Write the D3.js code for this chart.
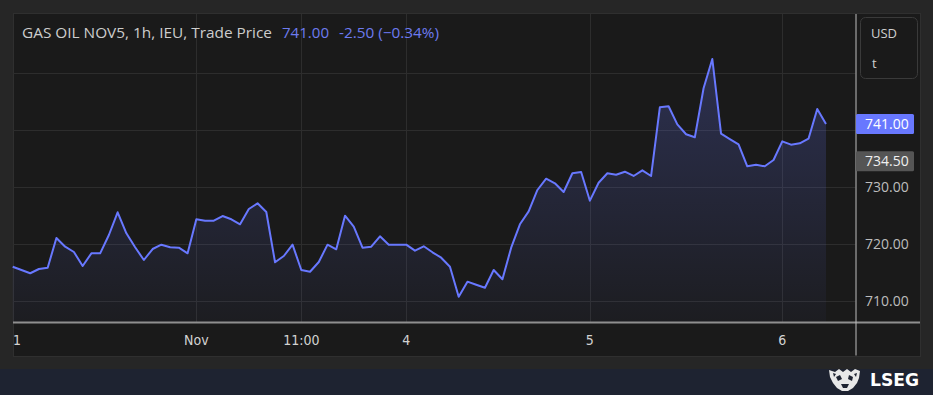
<!DOCTYPE html>
<html>
<head>
<meta charset="utf-8">
<script src="https://cdn.jsdelivr.net/npm/d3@7/dist/d3.min.js"></script>
<style>
  html, body { margin: 0; padding: 0; background: #262626; }
  svg { display: block; }
</style>
</head>
<body>
<svg id="chart" width="933" height="395"></svg>
<script>
// ---- data ----
const prices = [
  716.05, 715.47, 714.90, 715.65, 715.87, 721.07, 719.55, 718.62, 716.17, 718.39,
  718.39, 721.59, 725.56, 721.89, 719.44, 717.22, 719.14, 719.90, 719.44, 719.37,
  718.39, 724.34, 724.09, 724.09, 724.91, 724.34, 723.46, 726.14, 727.13, 725.61,
  716.82, 717.92, 719.90, 715.47, 715.17, 716.87, 719.90, 719.09, 724.97, 723.04,
  719.37, 719.55, 721.36, 719.90, 719.90, 719.90, 718.85, 719.62, 718.57, 717.62,
  716.05, 710.80, 713.43, 712.90, 712.38, 715.47, 713.85, 719.37, 723.46, 725.73,
  729.46, 731.43, 730.63, 729.11, 732.38, 732.60, 727.59, 730.73, 732.38, 732.13,
  732.66, 731.91, 732.90, 731.91, 743.92, 744.09, 740.94, 739.20, 738.67, 747.24,
  752.36, 739.30, 738.37, 737.45, 733.60, 733.88, 733.60, 734.70, 737.97, 737.38,
  737.62, 738.43, 743.62, 741.00
];
const xTickIndex = [0, 21, 33, 45, 66, 88];
const xTickLabels = ["1", "Nov", "11:00", "4", "5", "6"];
const yGridValues = [710, 720, 730, 740, 750];
const yTickValues = [710, 720, 730];
const lastPrice = 741.00;
const refPrice = 734.50;
const titleText = "GAS OIL NOV5, 1h, IEU, Trade Price";
const valueText = "741.00";
const changeText = "-2.50 (\u22120.34%)";

// ---- layout ----
const svg = d3.select("#chart");
const W = 933, H = 395;
const panel = { x: 13, y: 13, w: 907, h: 343 };
const plotL = 13, plotR = 855.5, plotB = 322.5;

const x = d3.scaleLinear().domain([0, prices.length - 1]).range([12.7, 826]);
const y = d3.scaleLinear().domain([710, 750]).range([301.3, 72.5]);

const blue = "#6878ff";
const uiFont = "'Open Sans',sans-serif";

// background
svg.append("rect").attr("width", W).attr("height", H).attr("fill", "#262626");
svg.append("rect").attr("x", panel.x + 0.5).attr("y", panel.y + 0.5)
  .attr("width", panel.w).attr("height", panel.h)
  .attr("fill", "#1a1a1a").attr("stroke", "#2f2f2f");
svg.append("rect").attr("x", 0).attr("y", 369).attr("width", W).attr("height", H - 369)
  .attr("fill", "#1e2331");

// gridlines
svg.append("g").selectAll("line").data(yGridValues).join("line")
  .attr("x1", plotL).attr("x2", plotR)
  .attr("y1", d => Math.round(y(d)) + 0.5).attr("y2", d => Math.round(y(d)) + 0.5)
  .attr("stroke", "#2d2d2d").attr("stroke-width", 1);
svg.append("g").selectAll("line").data(xTickIndex.slice(1)).join("line")
  .attr("x1", d => Math.round(x(d)) + 0.5).attr("x2", d => Math.round(x(d)) + 0.5)
  .attr("y1", panel.y + 1).attr("y2", plotB)
  .attr("stroke", "#2d2d2d").attr("stroke-width", 1);

// area gradient
const defs = svg.append("defs");
const grad = defs.append("linearGradient").attr("id", "areaGrad")
  .attr("gradientUnits", "userSpaceOnUse")
  .attr("x1", 0).attr("x2", 0).attr("y1", 60).attr("y2", plotB);
grad.append("stop").attr("offset", "0%").attr("stop-color", blue).attr("stop-opacity", 0.24);
grad.append("stop").attr("offset", "100%").attr("stop-color", blue).attr("stop-opacity", 0.03);

const area = d3.area().x((d, i) => x(i)).y0(plotB).y1(d => y(d));
svg.append("path").datum(prices).attr("d", area).attr("fill", "url(#areaGrad)");

const line = d3.line().x((d, i) => x(i)).y(d => y(d));
svg.append("path").datum(prices).attr("d", line)
  .attr("fill", "none").attr("stroke", blue).attr("stroke-width", 2)
  .attr("stroke-linejoin", "round");

// axis lines
svg.append("line").attr("x1", plotL).attr("x2", 920).attr("y1", plotB).attr("y2", plotB)
  .attr("stroke", "#8f8f8f").attr("stroke-width", 2);
svg.append("line").attr("x1", plotR + 0.5).attr("x2", plotR + 0.5).attr("y1", panel.y + 1).attr("y2", 355.5)
  .attr("stroke", "#bdbdbd").attr("stroke-width", 1);

// x labels
svg.append("g").selectAll("text").data(xTickIndex).join("text")
  .attr("x", (d, i) => i === 0 ? plotL : x(d))
  .attr("y", 345)
  .attr("text-anchor", (d, i) => i === 0 ? "start" : "middle")
  .attr("fill", "#d2d2d2")
  .style("font-family", "'Liberation Sans Narrow','DejaVu Sans Condensed',sans-serif")
  .style("font-size", "14px")
  .text((d, i) => xTickLabels[i]);

// y labels
svg.append("g").selectAll("text").data(yTickValues).join("text")
  .attr("x", 865).attr("y", d => y(d) + 5)
  .attr("fill", "#bdbdbd")
  .style("font-family", uiFont).style("font-size", "14px")
  .text(d => d3.format(".2f")(d));

// price labels
function priceTag(v, fill, textFill) {
  const cy = y(v);
  svg.append("rect").attr("x", 856).attr("y", cy - 10).attr("width", 58).attr("height", 20)
    .attr("rx", 1.5).attr("fill", fill);
  svg.append("text").attr("x", 865).attr("y", cy + 5)
    .attr("fill", textFill)
    .style("font-family", uiFont).style("font-size", "14px")
    .text(d3.format(".2f")(v));
}
priceTag(lastPrice, blue, "#ffffff");
priceTag(refPrice, "#555555", "#f0f0f0");

// currency box
svg.append("rect").attr("x", 860.5).attr("y", 17.5).attr("width", 57).attr("height", 61)
  .attr("rx", 5).attr("fill", "#1a1a1a").attr("stroke", "#3a3a3a");
svg.append("text").attr("x", 871).attr("y", 38).attr("fill", "#cfcfcf")
  .style("font-family", uiFont).style("font-size", "13px").text("USD");
svg.append("text").attr("x", 872).attr("y", 68).attr("fill", "#cfcfcf")
  .style("font-family", uiFont).style("font-size", "13px").text("t");

// header
const hdrStyle = sel => sel.style("font-family", uiFont).style("font-size", "14.5px");
svg.append("text").attr("x", 22).attr("y", 37.5).call(hdrStyle)
  .attr("fill", "#cdcdcd").attr("textLength", 250).attr("lengthAdjust", "spacingAndGlyphs")
  .text(titleText);
svg.append("text").attr("x", 282).attr("y", 37.5).call(hdrStyle)
  .attr("fill", "#6d7bef").attr("textLength", 47).attr("lengthAdjust", "spacingAndGlyphs")
  .text(valueText);
svg.append("text").attr("x", 339).attr("y", 37.5).call(hdrStyle)
  .attr("fill", "#6d7bef").attr("textLength", 100).attr("lengthAdjust", "spacingAndGlyphs")
  .text(changeText);

// LSEG logo
const logo = svg.append("g").attr("transform", "translate(845,380)");
logo.append("path")
  .attr("d", "M-16,-10 L-10,-8 L-6,-11 L-2,-8 L2,-11 L6,-8 L10,-11 L15,-9 L14,-2 L12,3 L8,8 L3,11 L-3,11 L-8,8 L-12,3 L-15,-3 Z")
  .attr("fill", "#e8e8e8");
logo.append("path")
  .attr("d", "M-9,-3 L-5,-5 L-3,-1 L-7,1 Z M4,-5 L8,-3 L7,1 L3,-1 Z M-4,4 L4,4 L2,8 L-2,8 Z M-12,-7 L-9,-6 L-11,-3 Z M9,-6 L12,-7 L11,-3 Z")
  .attr("fill", "#1e2331");
svg.append("text").attr("x", 870).attr("y", 386).attr("fill", "#ffffff")
  .attr("textLength", 49).attr("lengthAdjust", "spacingAndGlyphs")
  .style("font-family", "'DejaVu Sans Condensed','DejaVu Sans',sans-serif")
  .style("font-weight", "bold").style("font-size", "17px").text("LSEG");
</script>
</body>
</html>
